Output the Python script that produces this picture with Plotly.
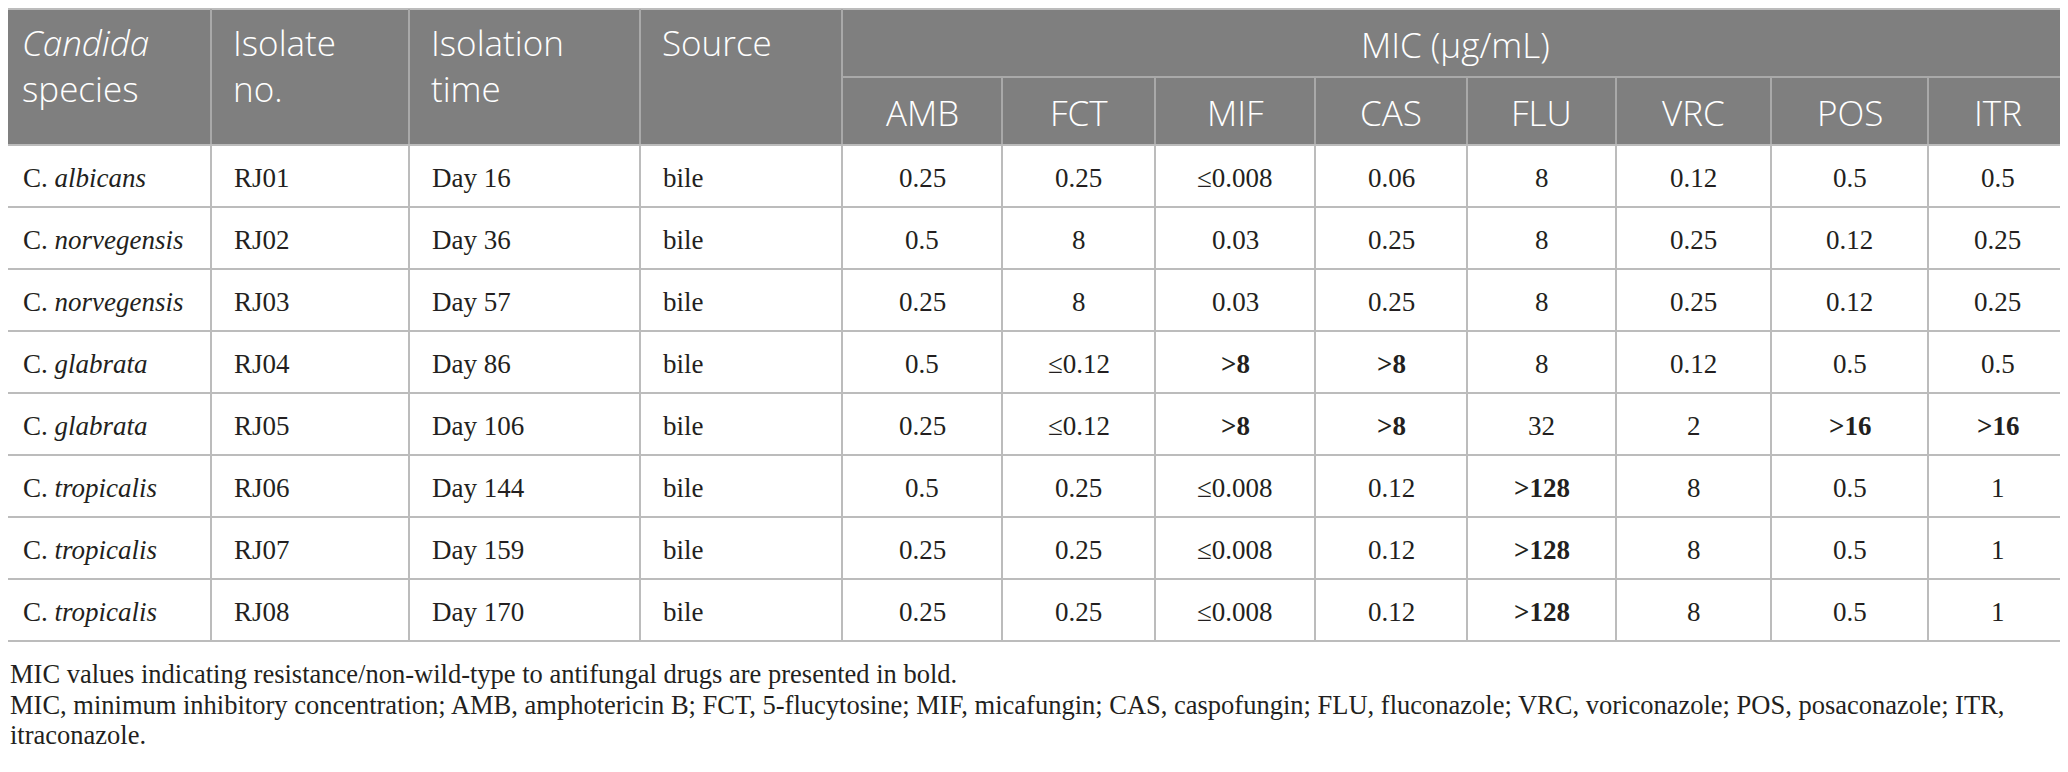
import plotly.graph_objects as go

# Datos de la tabla
species = ["albicans", "norvegensis", "norvegensis", "glabrata", "glabrata",
           "tropicalis", "tropicalis", "tropicalis"]
isolates = ["RJ01", "RJ02", "RJ03", "RJ04", "RJ05", "RJ06", "RJ07", "RJ08"]
times = ["Day 16", "Day 36", "Day 57", "Day 86", "Day 106", "Day 144", "Day 159", "Day 170"]
sources = ["bile"] * 8

drugs = ["AMB", "FCT", "MIF", "CAS", "FLU", "VRC", "POS", "ITR"]
amb = ["0.25", "0.5", "0.25", "0.5", "0.25", "0.5", "0.25", "0.25"]
fct = ["0.25", "8", "8", "≤0.12", "≤0.12", "0.25", "0.25", "0.25"]
mif = ["≤0.008", "0.03", "0.03", ">8", ">8", "≤0.008", "≤0.008", "≤0.008"]
cas = ["0.06", "0.25", "0.25", ">8", ">8", "0.12", "0.12", "0.12"]
flu = ["8", "8", "8", "8", "32", ">128", ">128", ">128"]
vrc = ["0.12", "0.25", "0.25", "0.12", "2", "8", "8", "8"]
pos = ["0.5", "0.12", "0.12", "0.5", ">16", "0.5", "0.5", "0.5"]
itr = ["0.5", "0.25", "0.25", "0.5", ">16", "1", "1", "1"]

# valores en negrita (resistencia)
amb_b = [0, 0, 0, 0, 0, 0, 0, 0]
fct_b = [0, 0, 0, 0, 0, 0, 0, 0]
mif_b = [0, 0, 0, 1, 1, 0, 0, 0]
cas_b = [0, 0, 0, 1, 1, 0, 0, 0]
flu_b = [0, 0, 0, 0, 0, 1, 1, 1]
vrc_b = [0, 0, 0, 0, 0, 0, 0, 0]
pos_b = [0, 0, 0, 0, 1, 0, 0, 0]
itr_b = [0, 0, 0, 0, 1, 0, 0, 0]

values = [amb, fct, mif, cas, flu, vrc, pos, itr]
bolds = [amb_b, fct_b, mif_b, cas_b, flu_b, vrc_b, pos_b, itr_b]

heads = ["<i>Candida</i><br>species", "Isolate<br>no.", "Isolation<br>time", "Source"]
mic_title = "MIC (μg/mL)"

notes = [
    "MIC values indicating resistance/non-wild-type to antifungal drugs are presented in bold.",
    "MIC, minimum inhibitory concentration; AMB, amphotericin B; FCT, 5-flucytosine; MIF, micafungin; "
    "CAS, caspofungin; FLU, fluconazole; VRC, voriconazole; POS, posaconazole; ITR,",
    "itraconazole.",
]

# Geometria (pixeles de la pagina; el body tiene 8px de margen)
W, H = 2068, 772
OFF = 8
cols = [0, 211, 409, 640, 842, 1002, 1155, 1315, 1467, 1616, 1771, 1928, 2067]
top, mid, hbot = 9, 77, 145
row_h = 62
rows = [hbot + i * row_h for i in range(9)]

head_bg = "#7f7f7f"
head_line = "#a9a9a9"
grid = "#bcbcbc"
txt = "#231f20"
sans = "Open Sans"
serif = "Liberation Serif"

fig = go.Figure()
shapes = []
ann = []

# fondo del encabezado
shapes.append(dict(type="rect", x0=0, x1=W, y0=top, y1=hbot, fillcolor=head_bg,
                   line_width=0, layer="below"))
shapes.append(dict(type="line", x0=0, x1=W, y0=top, y1=top, line=dict(color=grid, width=2)))
shapes.append(dict(type="line", x0=cols[4], x1=W, y0=mid, y1=mid,
                   line=dict(color=head_line, width=2)))
for i, x in enumerate(cols):
    y0 = top if i <= 4 or i == len(cols) - 1 else mid
    shapes.append(dict(type="line", x0=x, x1=x, y0=y0, y1=hbot,
                       line=dict(color=head_line, width=2)))

# cuerpo
for y in rows:
    shapes.append(dict(type="line", x0=0, x1=W, y0=y, y1=y, line=dict(color=grid, width=2)))
for x in cols:
    shapes.append(dict(type="line", x0=x, x1=x, y0=rows[0], y1=rows[-1],
                       line=dict(color=grid, width=2)))

head_font = dict(family=sans, size=35, color="white", weight=300)
for i, t in enumerate(heads):
    ann.append(dict(x=cols[i] + 20, y=17, text=t, xanchor="left", yanchor="top",
                    align="left", font=head_font))
ann.append(dict(x=(cols[4] + W) / 2, y=(top + mid) / 2 + 1, text=mic_title,
                xanchor="center", yanchor="middle", font=head_font))
for j, d in enumerate(drugs):
    ann.append(dict(x=(cols[4 + j] + cols[5 + j]) / 2, y=(mid + hbot) / 2 + 1, text=d,
                    xanchor="center", yanchor="middle", font=head_font))

body_font = dict(family=serif, size=27, color=txt)
for r in range(len(isolates)):
    yc = (rows[r] + rows[r + 1]) / 2 + 2
    left = ["C. <i>" + species[r] + "</i>", isolates[r], times[r], sources[r]]
    for i, t in enumerate(left):
        ann.append(dict(x=cols[i] + 21, y=yc, text=t, xanchor="left", yanchor="middle",
                        font=body_font))
    for j in range(len(drugs)):
        v = values[j][r]
        if bolds[j][r]:
            v = "<b>" + v + "</b>"
        ann.append(dict(x=(cols[4 + j] + cols[5 + j]) / 2, y=yc, text=v,
                        xanchor="center", yanchor="middle", font=body_font))

note_y = [674, 705, 735]
for k, t in enumerate(notes):
    ann.append(dict(x=OFF, y=note_y[k], text=t, xanchor="left", yanchor="middle",
                    height=30, font=dict(family=serif, size=26.5, color=txt)))

for a in ann:
    a.update(xref="x", yref="y", showarrow=False)

fig.update_layout(
    width=W - OFF, height=H - OFF,
    margin=dict(l=0, r=0, t=0, b=0),
    paper_bgcolor="white", plot_bgcolor="white",
    xaxis=dict(range=[OFF, W], visible=False, fixedrange=True),
    yaxis=dict(range=[H, OFF], visible=False, fixedrange=True),
    shapes=shapes,
    annotations=ann,
    showlegend=False,
)

fig.write_html("out.html")
